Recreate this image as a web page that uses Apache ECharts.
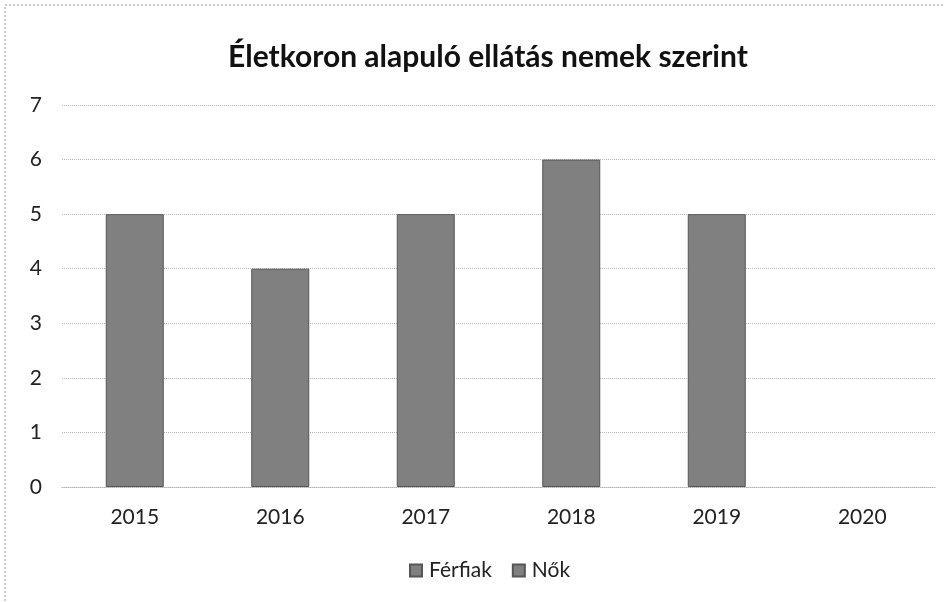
<!DOCTYPE html>
<html>
<head>
<meta charset="utf-8">
<title>Életkoron alapuló ellátás nemek szerint</title>
<script src="https://cdn.jsdelivr.net/npm/echarts@6/dist/echarts.min.js"></script>
<style>
  html, body { margin: 0; padding: 0; background: #fff; }
  #chart { width: 945px; height: 602px; }
</style>
</head>
<body>
<div id="chart"></div>
<script>
// chart data
var years = ['2015', '2016', '2017', '2018', '2019', '2020']
var ferfiak = [5, 4, 5, 6, 5, null]
var nok = [null, null, null, null, null, null]
var seriesNames = ['Férfiak', 'Nők']

var font = 'Lato, "Open Sans", sans-serif'
var barColor = '#808080'

var chart = echarts.init(document.getElementById('chart'))
chart.setOption({
  backgroundColor: '#fff',
  animation: false,
  title: {
    text: 'Életkoron alapuló ellátás nemek szerint',
    left: 223,
    top: 37,
    textStyle: {
      fontFamily: font,
      fontSize: 30,
      fontWeight: 'bold',
      color: '#111'
    }
  },
  legend: {
    data: seriesNames,
    bottom: 16,
    left: 404,
    itemWidth: 12,
    itemHeight: 12,
    itemGap: 20,
    icon: 'rect',
    textStyle: {
      fontFamily: font,
      fontSize: 21,
      color: '#222',
      padding: [0, 0, 0, 2]
    }
  },
  grid: {
    left: 62,
    right: 10,
    top: 105,
    height: 382,
    containLabel: false
  },
  xAxis: {
    type: 'category',
    data: years,
    axisLine: {
      lineStyle: {
        color: '#b5b5b5',
        type: 'dotted'
      }
    },
    axisTick: {
      show: false
    },
    axisLabel: {
      margin: 20,
      fontFamily: font,
      fontSize: 21,
      color: '#222'
    }
  },
  yAxis: {
    type: 'value',
    min: 0,
    max: 7,
    interval: 1,
    axisLine: {
      show: false
    },
    axisTick: {
      show: false
    },
    splitLine: {
      lineStyle: {
        color: '#b5b5b5',
        type: 'dotted'
      }
    },
    axisLabel: {
      margin: 20,
      fontFamily: font,
      fontSize: 21,
      color: '#222'
    }
  },
  series: [{
    name: seriesNames[0],
    type: 'bar',
    barWidth: 58,
    barGap: '-100%',
    itemStyle: {
      color: barColor,
      borderColor: '#555',
      borderWidth: 1
    },
    data: ferfiak
  }, {
    name: seriesNames[1],
    type: 'bar',
    barWidth: 58,
    itemStyle: {
      color: barColor,
      borderColor: '#555',
      borderWidth: 1
    },
    data: nok
  }],
  graphic: [{
    type: 'rect',
    shape: { x: 5, y: 5, width: 960, height: 620 },
    style: {
      fill: null,
      stroke: '#9a9a9a',
      lineWidth: 1,
      lineDash: [2, 2]
    },
    silent: true
  }]
})
</script>
</body>
</html>
